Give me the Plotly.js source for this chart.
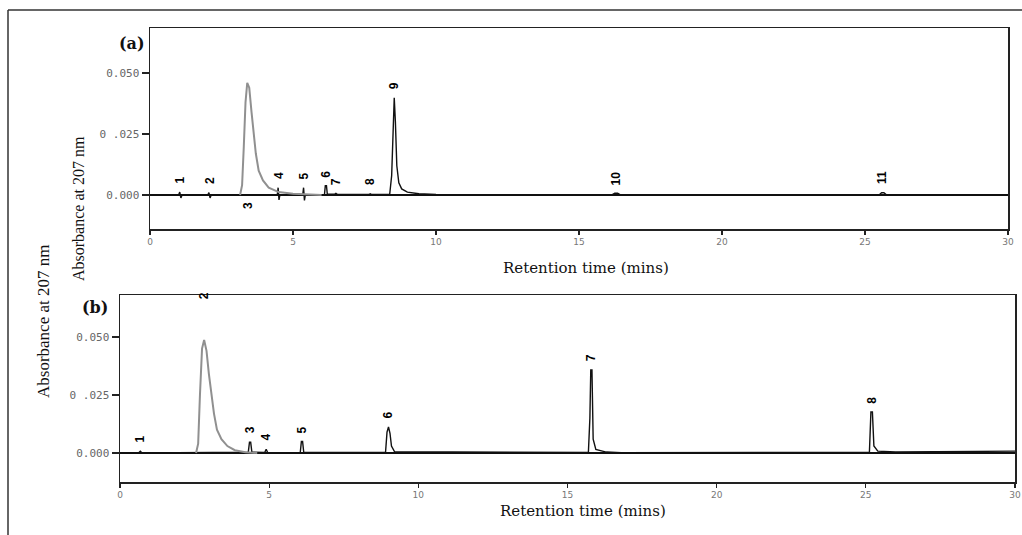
<!DOCTYPE html>
<html>
<head>
<meta charset="utf-8">
<script src="https://cdn.plot.ly/plotly-3.0.1.min.js"></script>
<style>html,body{margin:0;padding:0;background:#fff;}#chart{width:1022px;height:535px;}</style>
</head>
<body>
<div id="chart"></div>
<script>
// ---------- DATA (retention time in mins, absorbance at 207 nm) ----------
// Panel (a): main (black) trace
const aTime = [0, 1.00, 1.04, 1.08, 1.12, 2.02, 2.06, 2.10, 2.14, 4.45, 4.48, 4.51, 4.54, 5.34, 5.37, 5.40, 5.43,
  6.10, 6.13, 6.17, 6.20, 6.45, 6.50, 6.55, 7.65, 7.70, 7.75, 8.38, 8.45, 8.50, 8.54, 8.58, 8.63, 8.70, 8.80, 9.00, 9.40, 10.0,
  16.15, 16.25, 16.35, 16.45, 25.50, 25.58, 25.66, 25.75, 30];
const aAbs = [0, 0, 0.0012, -0.0012, 0, 0, 0.0010, -0.0012, 0, 0, 0.0030, -0.0020, 0, 0, 0.0030, -0.0022, 0,
  0.0002, 0.0038, 0.0038, 0.0003, 0.0003, 0.0007, 0.0003, 0.0002, 0.0005, 0.0002, 0.0002, 0.008, 0.032, 0.0398, 0.030, 0.012, 0.005, 0.0025, 0.0012, 0.0005, 0.0002,
  0.0001, 0.0007, 0.0007, 0.0001, 0.0001, 0.0009, 0.0009, 0.0001, 0];
// Panel (a): large grey peak (peak 3)
const aBigTime = [3.15, 3.22, 3.28, 3.34, 3.40, 3.47, 3.55, 3.62, 3.70, 3.80, 3.95, 4.15, 4.50, 5.00, 6.00];
const aBigAbs  = [0, 0.004, 0.020, 0.038, 0.046, 0.044, 0.034, 0.026, 0.017, 0.010, 0.006, 0.003, 0.0012, 0.0005, 0];
// Panel (a): peak labels
const aPeakNames = ['1','2','3','4','5','6','7','8','9','10','11'];
const aPeakTimes = [1.06, 2.08, 3.43, 4.49, 5.38, 6.15, 6.50, 7.70, 8.54, 16.30, 25.60];
const aPeakAbs   = [0.0012, 0.0010, 0, 0.0030, 0.0030, 0.0038, 0.0007, 0.0005, 0.0398, 0.0007, 0.0009];

// Panel (b): main (black) trace
const bTime = [0, 0.62, 0.68, 0.74, 4.30, 4.34, 4.38, 4.42, 4.85, 4.90, 4.95, 6.04, 6.08, 6.12, 6.16,
  8.90, 8.95, 9.00, 9.05, 9.10, 9.20, 15.70, 15.75, 15.78, 15.82, 15.86, 15.95, 16.30, 16.80,
  25.12, 25.17, 25.22, 25.27, 25.40, 26.00, 30];
const bAbs = [0, 0, 0.0008, 0, 0.0003, 0.0047, 0.0047, 0.0004, 0.0002, 0.0016, 0.0002, 0, 0.0050, 0.0050, 0.0002,
  0.0002, 0.0090, 0.0112, 0.0085, 0.0030, 0.0006, 0.0002, 0.0150, 0.0358, 0.0358, 0.0060, 0.0015, 0.0004, 0.0001,
  0.0003, 0.0177, 0.0177, 0.0030, 0.0008, 0.0004, 0.0008];
// Panel (b): large grey peak (peak 2)
const bBigTime = [2.55, 2.62, 2.68, 2.75, 2.82, 2.90, 2.98, 3.07, 3.15, 3.25, 3.40, 3.60, 3.85, 4.20, 4.60];
const bBigAbs  = [0, 0.004, 0.025, 0.045, 0.0487, 0.044, 0.034, 0.025, 0.017, 0.010, 0.006, 0.003, 0.0012, 0.0003, 0];
// Panel (b): peak labels
const bPeakNames = ['1','2','3','4','5','6','7','8'];
const bPeakTimes = [0.68, 2.82, 4.36, 4.90, 6.10, 9.00, 15.80, 25.20];
const bPeakAbs   = [0.0008, 0.0487, 0.0047, 0.0016, 0.0050, 0.0112, 0.0358, 0.0177];

// Axis ticks
const yTickVals = [0, 0.025, 0.05];
const yTickText = ['0.000', '0 .025', '0.050'];
const xTickVals = [0, 5, 10, 15, 20, 25, 30];
const xTickText = ['0', '5', '10', '15', '20', '25', '30'];

// ---------- STYLE ----------
const W = 1022, H = 535;
const px = v => v / W, py = v => 1 - v / H;

const traces = [
  {x: aTime, y: aAbs, xaxis: 'x', yaxis: 'y', mode: 'lines', line: {color: '#111', width: 1.4}, hoverinfo: 'skip'},
  {x: aBigTime, y: aBigAbs, xaxis: 'x', yaxis: 'y', mode: 'lines', line: {color: '#909090', width: 2}, hoverinfo: 'skip'},
  {x: bTime, y: bAbs, xaxis: 'x2', yaxis: 'y2', mode: 'lines', line: {color: '#111', width: 1.4}, hoverinfo: 'skip'},
  {x: bBigTime, y: bBigAbs, xaxis: 'x2', yaxis: 'y2', mode: 'lines', line: {color: '#909090', width: 2}, hoverinfo: 'skip'}
];

const axisCommon = {
  showline: true, mirror: true, linecolor: '#222', linewidth: 1.5,
  showgrid: false, ticks: 'outside', tickcolor: '#222', tickwidth: 1.3, fixedrange: true
};
const xCommon = Object.assign({}, axisCommon, {
  range: [0, 30], tickvals: xTickVals, ticktext: xTickText, ticklen: 4, zeroline: false,
  tickfont: {family: 'DejaVu Sans', size: 9, color: '#777'}
});
const yCommon = Object.assign({}, axisCommon, {
  tickvals: yTickVals, ticktext: yTickText, ticklen: 7,
  zeroline: true, zerolinecolor: '#111', zerolinewidth: 1.5,
  tickfont: {family: 'DejaVu Sans Mono', size: 11, color: '#666'}
});

const annotations = [];
function addPeakLabels(names, times, abs, xref, yref, below, extra) {
  names.forEach((n, i) => {
    const isBelow = below.includes(n);
    const shift = (extra[n] !== undefined) ? extra[n] : (9 + 3 * n.length);
    annotations.push({
      x: times[i], y: isBelow ? 0 : abs[i], xref: xref, yref: yref,
      text: '<b>' + n + '</b>', showarrow: false, textangle: -90,
      xanchor: 'center', yanchor: 'middle',
      yshift: isBelow ? -11 : shift,
      font: {family: 'Liberation Sans Narrow, Liberation Sans', size: 12, color: '#000'}
    });
  });
}
addPeakLabels(aPeakNames, aPeakTimes, aPeakAbs, 'x', 'y', ['3'], {});
addPeakLabels(bPeakNames, bPeakTimes, bPeakAbs, 'x2', 'y2', [], {'2': 44});

const serif = 'Liberation Serif';
annotations.push(
  {text: '<b>(a)</b>', x: px(117), y: py(32), xref: 'paper', yref: 'paper', showarrow: false,
   font: {family: 'DejaVu Serif', size: 16, color: '#111'}},
  {text: '<b>(b)</b>', x: px(80), y: py(307), xref: 'paper', yref: 'paper', showarrow: false,
   font: {family: 'DejaVu Serif', size: 16, color: '#111'}},
  {text: 'Absorbance at 207 nm', x: px(68), y: py(134), xref: 'paper', yref: 'paper', showarrow: false,
   textangle: -90, font: {family: serif, size: 16, color: '#111'}},
  {text: 'Absorbance at 207 nm', x: px(32), y: py(400), xref: 'paper', yref: 'paper', showarrow: false,
   textangle: -90, font: {family: serif, size: 17, color: '#111'}},
  {text: 'Retention time (mins)', x: px(586), y: py(268), xref: 'paper', yref: 'paper', showarrow: false,
   font: {family: 'DejaVu Serif', size: 15, color: '#111'}},
  {text: 'Retention time (mins)', x: px(583), y: py(522), xref: 'paper', yref: 'paper', showarrow: false,
   font: {family: 'DejaVu Serif', size: 15, color: '#111'}}
);

const layout = {
  width: W, height: H,
  margin: {l: 0, r: 0, t: 0, b: 0},
  paper_bgcolor: '#fff', plot_bgcolor: '#fff',
  showlegend: false,
  xaxis: Object.assign({}, xCommon, {domain: [px(150), px(1008)], anchor: 'y'}),
  yaxis: Object.assign({}, yCommon, {domain: [py(229), py(28)], range: [-0.01393, 0.06844], anchor: 'x'}),
  xaxis2: Object.assign({}, xCommon, {domain: [px(120), px(1015)], anchor: 'y2'}),
  yaxis2: Object.assign({}, yCommon, {domain: [py(482), py(295)], range: [-0.0125, 0.0681], anchor: 'x2'}),
  annotations: annotations,
  shapes: [
    {type: 'line', xref: 'paper', yref: 'paper', x0: px(8), x1: 1, y0: py(10), y1: py(10), line: {color: '#333', width: 1.5}},
    {type: 'line', xref: 'paper', yref: 'paper', x0: px(8), x1: px(8), y0: py(10), y1: 0, line: {color: '#333', width: 1.5}}
  ]
};

Plotly.newPlot('chart', traces, layout, {displayModeBar: false, staticPlot: true});
</script>
</body>
</html>
